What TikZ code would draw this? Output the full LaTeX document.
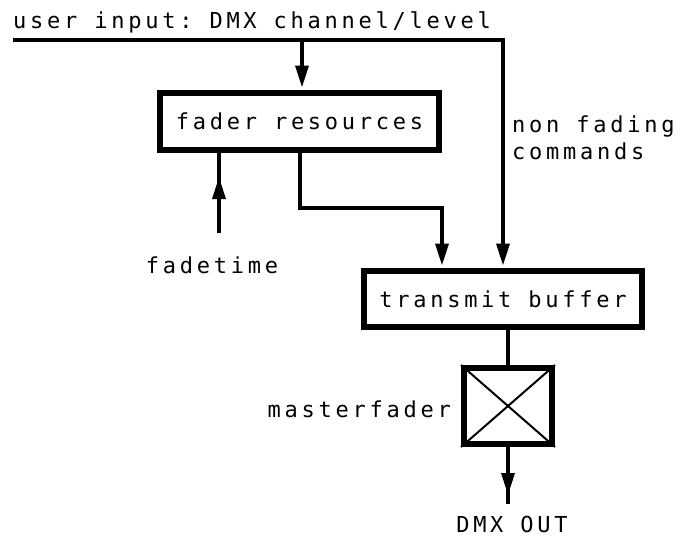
\documentclass[tikz,border=0pt]{standalone}
\usepackage{fontspec}
\setmonofont[LetterSpace=17]{DejaVu Sans Mono}
\usetikzlibrary{arrows.meta}
\begin{document}
\begin{tikzpicture}[x=1pt,y=1pt,
  font=\ttfamily\fontsize{22}{27}\selectfont,
  blk/.style={draw,line width=6pt,inner sep=0pt},
  wire/.style={line width=3.5pt},
  arr/.style={wire,-{Triangle[length=22pt,width=13pt]}},
  lbl/.style={inner sep=0pt}]
\useasboundingbox (0,0) rectangle (680,-536);

\node[lbl,anchor=base west] (title) at (13,-28) {user input: DMX channel/level};
\node[blk,minimum width=279pt,minimum height=57pt] (fader) at (299.5,-121.5) {fader resources};
\node[blk,minimum width=278pt,minimum height=56pt] (tx) at (503,-299) {transmit buffer};
\node[blk,minimum width=88pt,minimum height=76pt] (mf) at (508,-406) {};
\draw[line width=2pt] (mf.north west) -- (mf.south east) (mf.north east) -- (mf.south west);

\coordinate (tl) at (13,-40);
\coordinate (tr) at (503,-40);
\draw[arr,shorten >=2.5pt] (tl) -- (tr) -- (tr |- tx.north);

\coordinate (a1) at (302,-40);
\draw[arr,shorten >=2.5pt] (a1) -- (a1 |- fader.north);

\coordinate (e1) at (300,-208);
\coordinate (e2) at (442,-208);
\draw[arr,shorten >=2.5pt] (e1 |- fader.south) -- (e1) -- (e2) -- (e2 |- tx.north);

\coordinate (ft) at (219,-233);
\coordinate (ftip) at (219,-177);
\draw[wire] (ft) -- (ft |- fader.south);
\draw[arr] (ft) -- (ftip);
\node[lbl] (ftl) at (212,-265) {fadetime};

\node[lbl,anchor=west,align=left] (nf) at (512,-138) {non fading\\commands};

\draw[wire] (mf.north |- tx.south) -- (mf.north);
\coordinate (out) at (508,-504);
\coordinate (otip) at (508,-495);
\draw[wire] (mf.south) -- (out);
\draw[arr] (mf.south) -- (otip);
\node[lbl,anchor=base] (dmx) at (512,-532) {DMX OUT};
\node[lbl,anchor=east] (mfl) at (451,-409) {masterfader};
\end{tikzpicture}
\end{document}
